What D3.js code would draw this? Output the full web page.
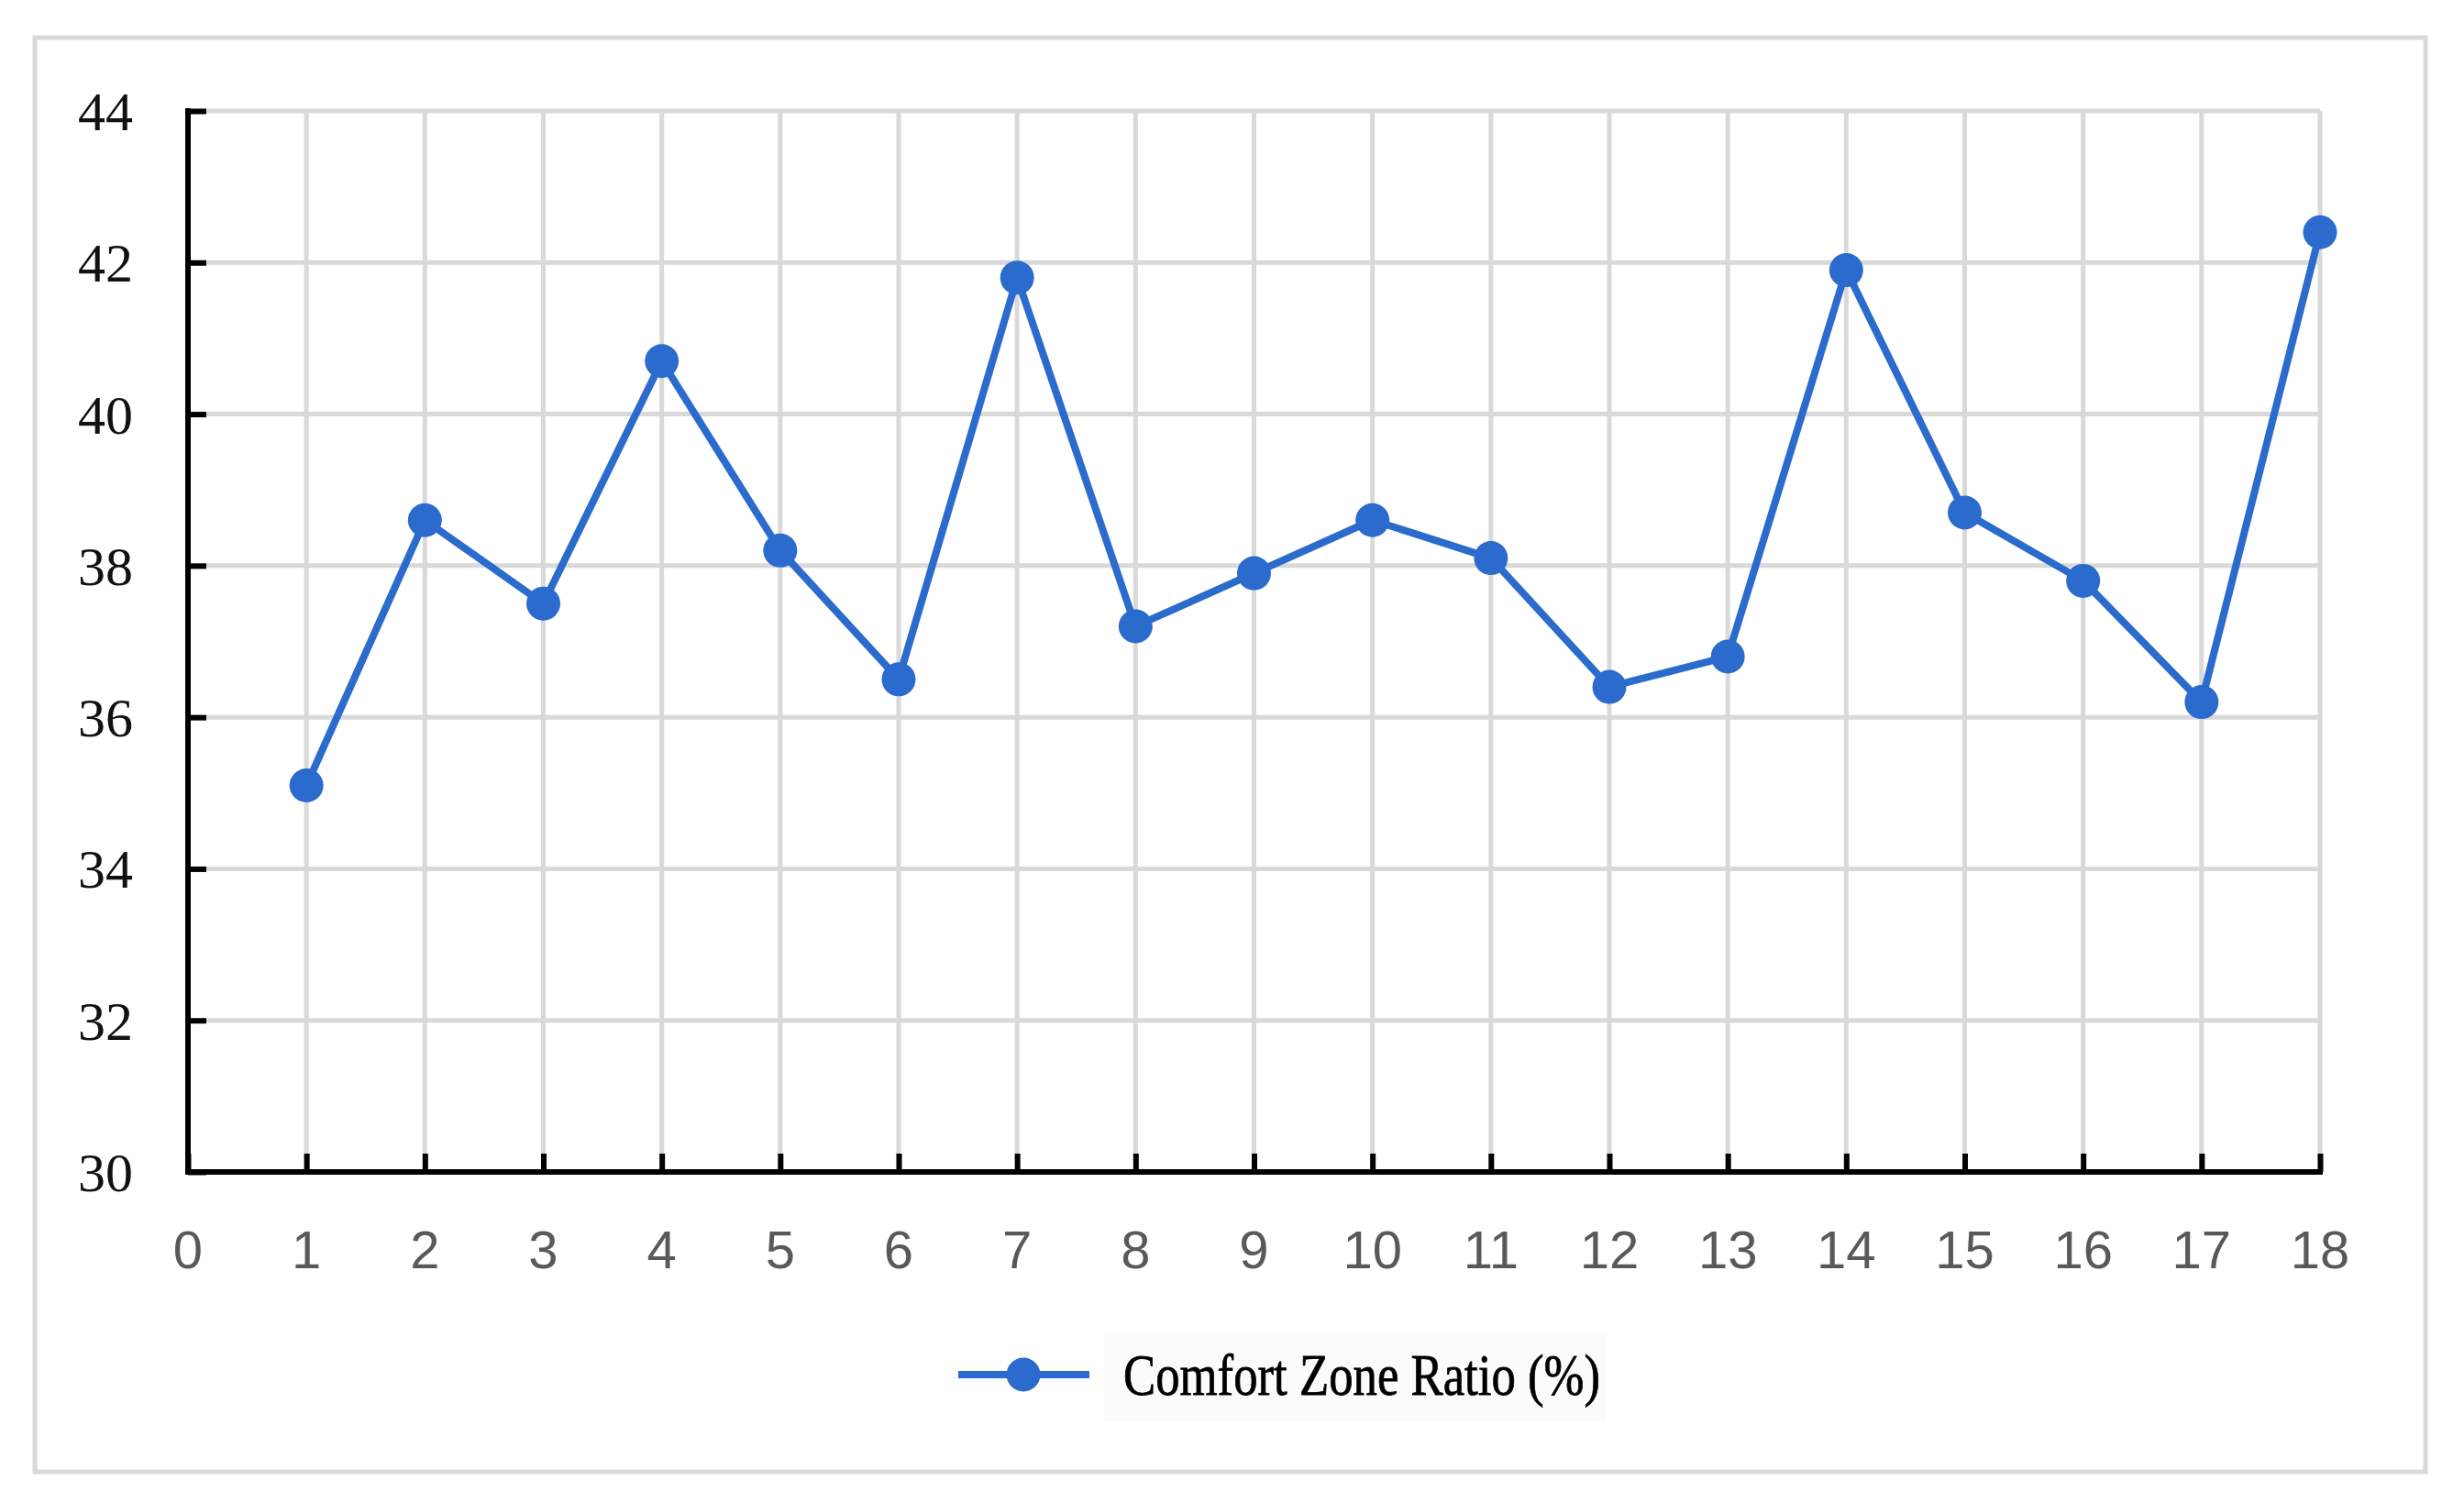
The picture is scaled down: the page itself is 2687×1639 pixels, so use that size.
<!DOCTYPE html>
<html>
<head>
<meta charset="utf-8">
<script src="https://cdn.jsdelivr.net/npm/d3@7"></script>
<style>
  html, body { margin: 0; padding: 0; background: #ffffff; }
  svg { display: block; }
</style>
</head>
<body>
<svg id="chart" width="2687" height="1639"></svg>
<script>
// ---- Data ----
const categories = [1, 2, 3, 4, 5, 6, 7, 8, 9, 10, 11, 12, 13, 14, 15, 16, 17, 18];
const comfortZoneRatio = [35.1, 38.6, 37.5, 40.7, 38.2, 36.5, 41.8, 37.2, 37.9, 38.6, 38.1, 36.4, 36.8, 41.9, 38.7, 37.8, 36.2, 42.4];
const xTicks = [0, 1, 2, 3, 4, 5, 6, 7, 8, 9, 10, 11, 12, 13, 14, 15, 16, 17, 18];
const yTicks = [30, 32, 34, 36, 38, 40, 42, 44];
const seriesName = "Comfort Zone Ratio (%)";

// ---- Layout ----
const W = 2687, H = 1639;
const plot = { left: 205, right: 2530, top: 121, bottom: 1278 };
const blue = "#2a6bcd";
const gridColor = "#d9d9d9";

const svg = d3.select("#chart");

// outer frame
svg.append("rect")
  .attr("x", 38).attr("y", 41).attr("width", 2607).attr("height", 1564)
  .attr("fill", "#ffffff").attr("stroke", gridColor).attr("stroke-width", 5);

const x = d3.scaleLinear().domain([0, 18]).range([plot.left, plot.right]);
const y = d3.scaleLinear().domain([30, 44]).range([plot.bottom, plot.top]);

// gridlines
const grid = svg.append("g");
grid.selectAll("line.h").data(yTicks.filter(d => d > 30)).join("line")
  .attr("x1", plot.left).attr("x2", plot.right)
  .attr("y1", d => y(d)).attr("y2", d => y(d))
  .attr("stroke", gridColor).attr("stroke-width", 5);
grid.selectAll("line.v").data(xTicks.filter(d => d > 0)).join("line")
  .attr("x1", d => x(d)).attr("x2", d => x(d))
  .attr("y1", plot.top).attr("y2", plot.bottom)
  .attr("stroke", gridColor).attr("stroke-width", 5);

// y axis
const yAxis = d3.axisRight(y).tickValues(yTicks).tickSize(20).tickFormat("");
const gy = svg.append("g").attr("transform", `translate(${plot.left},0)`).call(yAxis);
gy.select(".domain").attr("stroke", "#000").attr("stroke-width", 6)
  .attr("d", `M0,${plot.top - 3}V${plot.bottom + 3}`);
gy.selectAll(".tick line").attr("stroke", "#000").attr("stroke-width", 6);

// x axis
const xAxis = d3.axisTop(x).tickValues(xTicks).tickSize(20).tickFormat("");
const gx = svg.append("g").attr("transform", `translate(0,${plot.bottom})`).call(xAxis);
gx.select(".domain").attr("stroke", "#000").attr("stroke-width", 6)
  .attr("d", `M${plot.left - 3},0H${plot.right + 3}`);
gx.selectAll(".tick line").attr("stroke", "#000").attr("stroke-width", 6);

// y tick labels
svg.append("g").selectAll("text").data(yTicks).join("text")
  .attr("x", 145).attr("y", d => y(d)).attr("dy", "0.35em")
  .attr("text-anchor", "end")
  .attr("font-family", "'Liberation Serif', 'Times New Roman', serif")
  .attr("font-size", 60).attr("fill", "#111")
  .text(d => d);

// x tick labels
svg.append("g").selectAll("text").data(xTicks).join("text")
  .attr("x", d => x(d)).attr("y", 1383)
  .attr("text-anchor", "middle")
  .attr("font-family", "'Liberation Sans', Arial, sans-serif")
  .attr("font-size", 58).attr("fill", "#595959")
  .text(d => d);

// series line
const pts = categories.map((c, i) => ({ c, v: comfortZoneRatio[i] }));
svg.append("path").datum(pts)
  .attr("fill", "none").attr("stroke", blue).attr("stroke-width", 8)
  .attr("stroke-linejoin", "round")
  .attr("d", d3.line().x(d => x(d.c)).y(d => y(d.v)));

svg.append("g").selectAll("circle").data(pts).join("circle")
  .attr("cx", d => x(d.c)).attr("cy", d => y(d.v)).attr("r", 18.5)
  .attr("fill", blue);

// legend
const lg = svg.append("g");
lg.append("rect").attr("x", 1204).attr("y", 1453).attr("width", 548).attr("height", 97)
  .attr("fill", "#fbfbfb");
lg.append("line").attr("x1", 1045).attr("x2", 1188).attr("y1", 1499).attr("y2", 1499)
  .attr("stroke", blue).attr("stroke-width", 8);
lg.append("circle").attr("cx", 1116).attr("cy", 1499).attr("r", 18.5).attr("fill", blue);
lg.append("text").attr("x", 1225).attr("y", 1521)
  .attr("font-family", "'Liberation Serif', 'Times New Roman', serif")
  .attr("font-size", 64).attr("fill", "#000")
  .attr("stroke", "#000").attr("stroke-width", 0.8)
  .attr("textLength", 520).attr("lengthAdjust", "spacingAndGlyphs")
  .text(seriesName);
</script>
</body>
</html>
